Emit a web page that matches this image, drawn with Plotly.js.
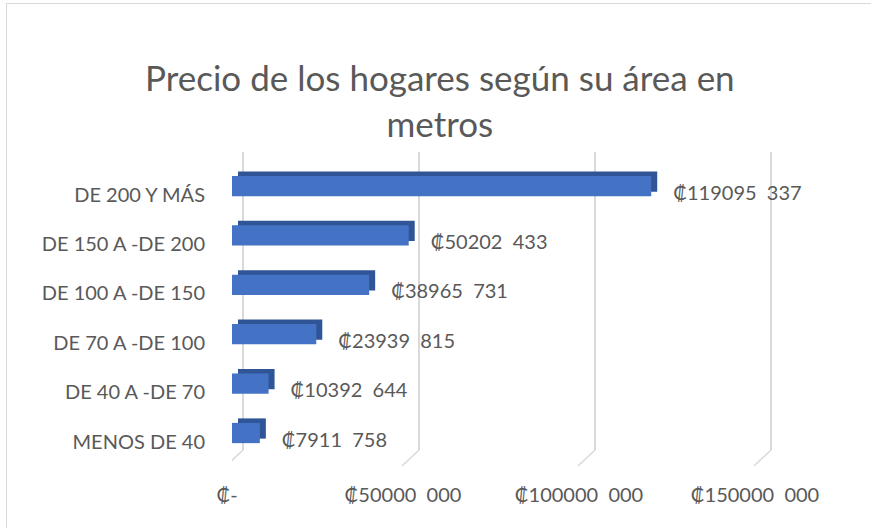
<!DOCTYPE html>
<html><head><meta charset="utf-8">
<script src="https://cdn.plot.ly/plotly-3.0.1.min.js"></script>
<style>
body{margin:0;background:#fff}
#chart{position:absolute;left:0;top:0;width:871px;height:528px}
#frame{position:absolute;left:6px;top:3px;width:900px;height:560px;border-left:1.5px solid #D9D9D9;border-top:1.5px solid #D9D9D9;pointer-events:none}
</style>
</head><body>
<div id="chart"></div><div id="frame"></div>
<script>
const categories = ['MENOS DE 40','DE 40 A -DE 70','DE 70 A -DE 100','DE 100 A -DE 150','DE 150 A -DE 200','DE 200 Y MÁS'];
const prices = [7911758, 10392644, 23939815, 38965731, 50202433, 119095337];
const tickValues = [0, 50000000, 100000000, 150000000];

function fmt(v){
  if(v === 0) return '₡-';
  return '₡' + Math.floor(v/1000) + '\u00a0\u00a0' + String(v % 1000).padStart(3,'0');
}
const tickText = tickValues.map(fmt);
const priceText = prices.map(fmt);

const FONT = 'Lato, "Liberation Sans", sans-serif';
const k = 50000000/176;          // value units per pixel
const plotW = 568;
const pxU = 49.4;                // pixels per category

const yBase = [-0.344, 5.69];
const shiftY = (px) => [yBase[0] + px/pxU, yBase[1] + px/pxU];
const shiftX = (px) => [-px*k, (plotW-px)*k];

const traces = [
  { // depth (top/side faces) - main subplot, drawn first
    type:'bar', orientation:'h', x:prices, y:categories, xaxis:'x', yaxis:'y',
    width:0.41, marker:{color:'#2F5597'}, hoverinfo:'skip'
  },
  { // value labels
    type:'scatter', mode:'markers+text', x:prices, y:categories, xaxis:'x2', yaxis:'y3',
    text:priceText, textposition:'middle right',
    marker:{size:16, color:'rgba(0,0,0,0)'},
    textfont:{family:FONT, size:20, color:'#595959'}, hoverinfo:'skip', cliponaxis:false
  },
  { // front faces
    type:'bar', orientation:'h', x:prices, y:categories, xaxis:'x3', yaxis:'y2',
    width:0.41, marker:{color:'#4472C4'}, hoverinfo:'skip'
  }
];

const shapes = tickValues.map(tv => ({
  type:'line', xref:'x2', yref:'paper', xsizemode:'pixel', xanchor:tv, x0:0, x1:-17,
  ysizemode:'pixel', yanchor:0, y0:0, y1:-16, line:{color:'#D9D9D9', width:1.5}
}));

const layout = {
  width:871, height:528,
  margin:{l:232, r:871-232-plotW, t:152, b:78},
  paper_bgcolor:'#fff', plot_bgcolor:'rgba(0,0,0,0)',
  showlegend:false, barmode:'overlay',
  title:{text:'Precio de los hogares según su área en<br>metros', x:0.505, xref:'container',
         y:1-91/528, yref:'container', yanchor:'middle',
         font:{family:FONT, size:35, color:'#595959'}},
  xaxis:{range:shiftX(6), showgrid:false, zeroline:false, showline:false,
         tickmode:'array', tickvals:tickValues, ticktext:tickText,
         ticks:'outside', ticklen:27, tickcolor:'rgba(0,0,0,0)', ticklabelshift:-11,
         tickfont:{family:FONT, size:20, color:'#595959'}},
  xaxis2:{overlaying:'x', range:shiftX(11), showgrid:true, gridcolor:'#D9D9D9', gridwidth:1.5,
          tickmode:'array', tickvals:tickValues, showticklabels:false, zeroline:false, showline:false, ticks:''},
  xaxis3:{overlaying:'x', range:shiftX(0), visible:false},
  yaxis:{type:'category', categoryorder:'array', categoryarray:categories, range:shiftY(-4.5),
         showgrid:false, zeroline:false, showticklabels:false, ticks:''},
  yaxis2:{type:'category', categoryorder:'array', categoryarray:categories, overlaying:'y',
          range:yBase, visible:false},
  yaxis3:{type:'category', categoryorder:'array', categoryarray:categories, overlaying:'y',
          range:shiftY(8.5), showgrid:false, zeroline:false, showline:false,
          ticks:'outside', ticklen:22, tickcolor:'rgba(0,0,0,0)',
          tickfont:{family:FONT, size:20, color:'#595959'}},
  shapes:shapes
};

Plotly.newPlot('chart', traces, layout, {staticPlot:true, displayModeBar:false});
</script>
</body></html>
